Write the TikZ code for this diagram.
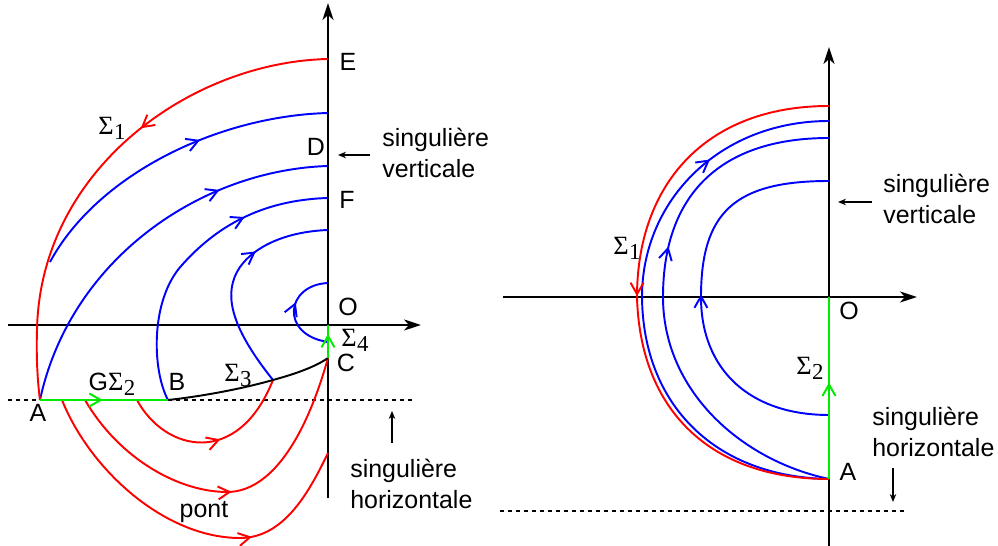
\documentclass[tikz,border=0pt]{standalone}
\usepackage{fontspec}
\setmainfont{Liberation Sans}
\newfontfamily\sigfont{Liberation Serif}
\usetikzlibrary{arrows.meta,decorations.markings}
\definecolor{cred}{RGB}{255,0,0}
\definecolor{cblue}{RGB}{0,0,255}
\definecolor{cgreen}{RGB}{0,235,0}
\newcommand{\SigLab}[1]{{\fontsize{15}{17}\sigfont Σ\kern0.3pt\raisebox{-0.1cm}{\fontsize{13}{13}\selectfont #1}}}
\begin{document}
\begin{tikzpicture}[x=0.02cm,y=-0.02cm,
 every node/.style={font=\fontsize{14.2}{17.6}\selectfont, inner sep=0pt},
 axis/.style={line width=1.4pt, -{Stealth[length=3.4mm,width=2.2mm,inset=1mm]}},
 traj/.style={line width=1.1pt},
 redc/.style={traj, color=cred},
 bluec/.style={traj, color=cblue},
 greenc/.style={traj, color=cgreen},
 midarrow/.style={postaction={decorate},decoration={markings,mark=at position #1 with {\arrow{Straight Barb[length=2.3mm,width=2.6mm]}}}},
 dotline/.style={line width=0.8pt, dash pattern=on 0.08cm off 0.08cm},
 note/.style={line width=0.7pt, -{Stealth[length=1.6mm,width=1.3mm]}},
]
\useasboundingbox (0,0) rectangle (998,546);

% ---------------- left diagram ----------------
\coordinate (LVb) at (328,498); \coordinate (LVt) at (328,3);
\coordinate (LHl) at (8,325);   \coordinate (LHr) at (421,325);
\coordinate (LDl) at (8,400);   \coordinate (LDr) at (413,400);
\coordinate (LE) at (328,59);   \coordinate (LA) at (40,400);
\coordinate (LB) at (168,400);  \coordinate (LC) at (328,358);
\coordinate (LO) at (328,325);
\coordinate (LD1) at (328,113); \coordinate (LD2) at (328,166);
\coordinate (LD3) at (328,198); \coordinate (LD4) at (328,230);
\coordinate (LD5a) at (328,283); \coordinate (LD5b) at (328,342);
\coordinate (LS1) at (50,262);  \coordinate (LS4) at (273,380);
\coordinate (LR1) at (137,400); \coordinate (LR2) at (85,400);
\coordinate (LR3) at (62,400);  \coordinate (LR3e) at (328,453);

\draw[dotline] (LDl) -- (LDr);
\draw[axis] (LVb) -- (LVt);
\draw[axis] (LHl) -- (LHr);

\draw[bluec, midarrow=0.60] (LS1) .. controls (97,175) and (217,116) .. (LD1);
\draw[bluec, midarrow=0.72] (LA) .. controls (70,260) and (200,170) .. (LD2);
\draw[bluec, midarrow=0.72] (LB) .. controls (152,370) and (150,300) .. (182,265)
                                 .. controls (215,228) and (260,200) .. (LD3);
\draw[bluec, midarrow=0.66] (LS4) .. controls (245,345) and (225,310) .. (233,282)
                                 .. controls (240,255) and (275,232) .. (LD4);
\draw[bluec, midarrow=0.60] (LD5b) .. controls (280,335) and (285,285) .. (LD5a);

\draw[redc, midarrow=0.40] (LE) .. controls (190,62) and (40,170) .. (37,330)
                                .. controls (36,360) and (38,385) .. (LA);
\draw[redc, midarrow=0.55] (LR1) .. controls (165,452) and (238,468) .. (LS4);
\draw[redc, midarrow=0.51] (LR2) .. controls (120,460) and (180,492) .. (227,492)
                                 .. controls (270,492) and (305,440) .. (LC);
\draw[redc, midarrow=0.68] (LR3) .. controls (90,470) and (165,538) .. (240,538)
                                 .. controls (285,538) and (310,490) .. (LR3e);

\draw[traj, black] (LB) .. controls (205,396) and (245,388) .. (LS4)
                        .. controls (295,374) and (315,367) .. (LC);

\draw[greenc, midarrow=0.49] (LA) -- (LB);
\draw[greenc, midarrow=0.73] (LC) -- (LO);

\node (tE) at (348,62) {E};
\node (tD) at (316,147) {D};
\node (tF) at (347,200) {F};
\node (tO) at (348,307) {O};
\node (tS4) at (355,340) {\SigLab{4}};
\node (tC) at (346,363) {C};
\node (tB) at (177,382) {B};
\node (tS3) at (238,375) {\SigLab{3}};
\node (tG) at (112,384) {G\SigLab{2}};
\node (tA) at (38,413) {A};
\node (tS1) at (112,128) {\SigLab{1}};
\node (tpont) at (204,512) {pont};

\node[align=left, anchor=west] (tsv1) at (382,153) {singulière\\verticale};
\node[align=left, anchor=west] (tsh1) at (350,484) {singulière\\horizontale};
\coordinate (av1s) at (370,155); \coordinate (av1e) at (338,155);
\draw[note] (av1s) -- (av1e);
\coordinate (ah1s) at (392,443); \coordinate (ah1e) at (392,411);
\draw[note] (ah1s) -- (ah1e);

% ---------------- right diagram ----------------
\coordinate (RVb) at (829,546); \coordinate (RVt) at (829,47);
\coordinate (RHl) at (503,297); \coordinate (RHr) at (917,297);
\coordinate (RDl) at (500,511); \coordinate (RDr) at (905,511);
\coordinate (RO) at (829,297);  \coordinate (RA) at (829,479);
\coordinate (RT) at (829,106);  \coordinate (RB1) at (829,121);
\coordinate (RB2) at (829,138); \coordinate (RB3) at (829,181);
\coordinate (RB3e) at (829,415);

\draw[dotline] (RDl) -- (RDr);
\draw[axis] (RVb) -- (RVt);
\draw[axis] (RHl) -- (RHr);

\draw[bluec, midarrow=0.78] (RA) .. controls (715,477) and (643,405) .. (642,297)
                                .. controls (642,200) and (720,121) .. (RB1);
\draw[bluec, midarrow=0.60] (RA) .. controls (740,460) and (663,390) .. (663,297)
                                .. controls (663,195) and (720,138) .. (RB2);
\draw[bluec, midarrow=0.50] (RB3e) .. controls (750,415) and (701,370) .. (701,297)
                                .. controls (701,212) and (735,181) .. (RB3);

\draw[redc, midarrow=0.505] (RT) .. controls (705,106) and (637,185) .. (637,297)
                                .. controls (640,410) and (710,479) .. (RA);

\draw[greenc, midarrow=0.53] (RA) -- (RO);

\node (rS1) at (627,248) {\SigLab{1}};
\node (rO) at (849,311) {O};
\node (rS2) at (810,368) {\SigLab{2}};
\node (rA) at (848,472) {A};

\node[align=left, anchor=west] (tsv2) at (883,199) {singulière\\verticale};
\node[align=left, anchor=west] (tsh2) at (872,432) {singulière\\horizontale};
\coordinate (av2s) at (872,202); \coordinate (av2e) at (838,202);
\draw[note] (av2s) -- (av2e);
\coordinate (ah2s) at (893,468); \coordinate (ah2e) at (893,502);
\draw[note] (ah2s) -- (ah2e);
\end{tikzpicture}
\end{document}
